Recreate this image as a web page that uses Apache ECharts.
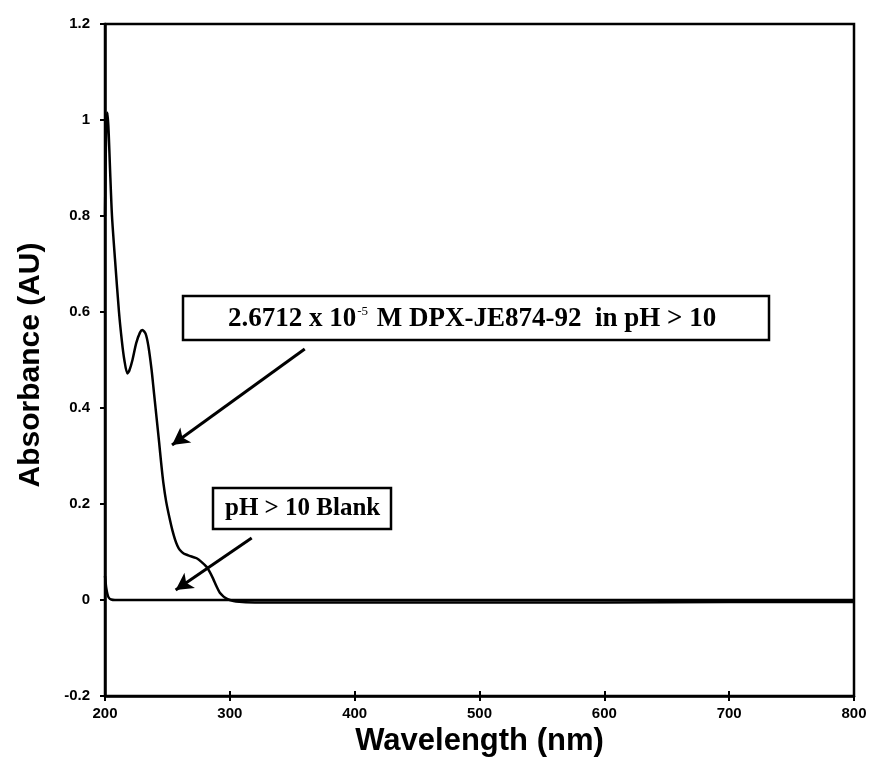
<!DOCTYPE html>
<html><head><meta charset="utf-8">
<script src="https://cdn.jsdelivr.net/npm/echarts@6/dist/echarts.min.js"></script>
<style>html,body{margin:0;padding:0;background:#fff}#c{width:872px;height:766px}</style>
</head><body><div id="c"></div>
<script>
const sampleWl  = [200, 201, 202, 203, 204, 205.6, 208, 211.2, 213.5, 215.5, 217.9, 219.5, 222, 225, 228, 229.9, 232.5, 234.7, 237.3, 239.3, 241.3, 243.3, 245, 246.7, 249, 252, 254, 256, 258, 260, 263, 266.7, 270, 273.4, 277, 281.4, 284, 286.5, 289.4, 292, 295, 297.4, 300, 305, 320, 400, 500, 600, 700, 800];
const sampleAbs = [0.80, 0.99, 1.015, 0.97, 0.90, 0.80, 0.71, 0.60, 0.54, 0.50, 0.472, 0.478, 0.50, 0.535, 0.557, 0.5625, 0.555, 0.53, 0.48, 0.43, 0.38, 0.33, 0.285, 0.245, 0.205, 0.167, 0.145, 0.127, 0.113, 0.104, 0.097, 0.093, 0.09, 0.087, 0.08, 0.069, 0.058, 0.045, 0.028, 0.015, 0.007, 0.003, 0, -0.003, -0.005, -0.005, -0.005, -0.005, -0.004, -0.004];
const blankWl  = [200, 201, 202, 203, 205, 208, 300, 400, 500, 600, 700, 800];
const blankAbs = [0.05, 0.025, 0.012, 0.005, 0.001, 0, 0, 0, 0, 0, 0, 0];
const xTicks = [200, 300, 400, 500, 600, 700, 800];
const yTicks = [-0.2, 0, 0.2, 0.4, 0.6, 0.8, 1, 1.2];
const label1 = '2.6712 x 10';
const label1sup = '-5';
const label1rest = ' M DPX-JE874-92  in pH > 10';
const label2 = 'pH > 10 Blank';
const arrow1 = [[360, 0.523], [253.7, 0.323]];
const arrow2 = [[317.5, 0.129], [256.6, 0.021]];

const chart = echarts.init(document.getElementById('c'));
const tickFont = {fontFamily: 'Liberation Sans', fontWeight: 'bold', fontSize: 15, color: '#000'};
const axLine = {show: true, onZero: false, lineStyle: {color: '#000', width: 2.5}};
chart.setOption({
  animation: false,
  backgroundColor: '#fff',
  grid: {left: 105, right: 18, top: 24, bottom: 70, show: true, borderColor: '#000', borderWidth: 2.5},
  xAxis: [{
    type: 'value', min: xTicks[0], max: xTicks[xTicks.length - 1], interval: 100,
    axisLine: axLine, splitLine: {show: false},
    axisTick: {show: true, length: 5, lineStyle: {color: '#000', width: 2}},
    axisLabel: Object.assign({margin: 10}, tickFont),
    name: 'Wavelength (nm)', nameLocation: 'middle', nameGap: 20,
    nameTextStyle: {fontFamily: 'Liberation Sans', fontWeight: 'bold', fontSize: 31, color: '#000', verticalAlign: 'top'}
  }, {
    type: 'value', min: xTicks[0], max: xTicks[xTicks.length - 1], interval: 100, position: 'bottom',
    axisLine: {show: false, onZero: false}, splitLine: {show: false}, axisLabel: {show: false},
    axisTick: {show: true, inside: true, length: 5, lineStyle: {color: '#000', width: 2}}
  }],
  yAxis: [{
    type: 'value', min: yTicks[0], max: yTicks[yTicks.length - 1], interval: 0.2,
    axisLine: axLine, splitLine: {show: false},
    axisTick: {show: true, length: 5, lineStyle: {color: '#000', width: 2}},
    axisLabel: Object.assign({margin: 15, formatter: v => String(Math.round(v * 10) / 10)}, tickFont)
  }],
  series: [{
    type: 'line', name: 'sample', showSymbol: false, smooth: 0.25,
    data: sampleWl.map((w, i) => [w, sampleAbs[i]]),
    lineStyle: {color: '#000', width: 2.5},
    markLine: {
      silent: true, symbol: ['none', 'arrow'], symbolSize: [14, 17], label: {show: false},
      lineStyle: {color: '#000', width: 3, type: 'solid'},
      data: [
        [{coord: arrow1[0]}, {coord: arrow1[1]}],
        [{coord: arrow2[0]}, {coord: arrow2[1]}]
      ]
    }
  }, {
    type: 'line', name: 'blank', showSymbol: false, smooth: 0.25,
    data: blankWl.map((w, i) => [w, blankAbs[i]]),
    lineStyle: {color: '#000', width: 2.5}
  }],
  graphic: [
    {type: 'rect', shape: {x: 183, y: 296, width: 586, height: 44},
     style: {fill: '#fff', stroke: '#000', lineWidth: 2.5}, z: 100},
    {type: 'text', x: 228, y: 319, z: 101,
     style: {
       text: '{a|' + label1 + '}{s|' + label1sup + '}{a|' + label1rest + '}',
       verticalAlign: 'middle',
       rich: {
         a: {fontFamily: 'Liberation Serif', fontSize: 27, fill: '#000', fontWeight: 'bold'},
         s: {fontFamily: 'Liberation Serif', fontSize: 13, fill: '#000', verticalAlign: 'top', padding: [0, 2, 14, 1]}
       }
     }},
    {type: 'rect', shape: {x: 213, y: 488, width: 178, height: 41},
     style: {fill: '#fff', stroke: '#000', lineWidth: 2.5}, z: 100},
    {type: 'text', x: 225, y: 509, z: 101,
     style: {text: label2, verticalAlign: 'middle', fontFamily: 'Liberation Serif', fontWeight: 'bold', fontSize: 25, fill: '#000'}},
    {type: 'text', x: 31, y: 365, rotation: Math.PI / 2, z: 101,
     style: {text: 'Absorbance (AU)', align: 'center', verticalAlign: 'middle', fontFamily: 'Liberation Sans', fontWeight: 'bold', fontSize: 30, fill: '#000'}}
  ]
});
</script></body></html>
